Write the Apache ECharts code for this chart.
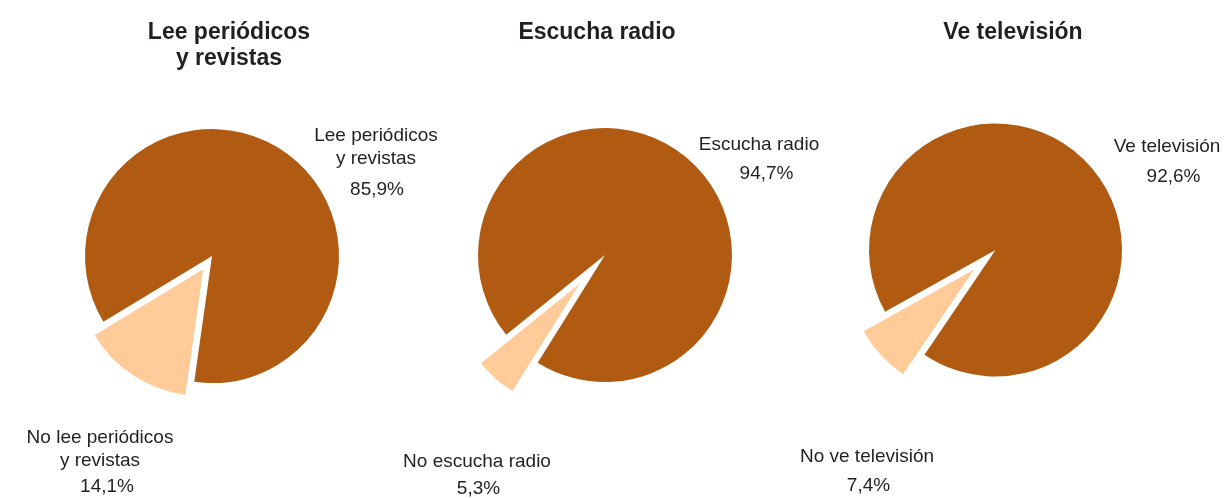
<!DOCTYPE html>
<html>
<head>
<meta charset="utf-8">
<script src="https://cdn.jsdelivr.net/npm/echarts@6/dist/echarts.min.js"></script>
<style>
html,body{margin:0;padding:0;background:#fff;}
#chart{width:1225px;height:498px;}
</style>
</head>
<body>
<div id="chart"></div>
<script>
// ---- data ----
const titles = ['Lee periódicos\ny revistas', 'Escucha radio', 'Ve televisión'];
const yesLabels = ['Lee periódicos\ny revistas', 'Escucha radio', 'Ve televisión'];
const noLabels = ['No lee periódicos\ny revistas', 'No escucha radio', 'No ve televisión'];
const yesValues = [85.9, 94.7, 92.6];
const noValues = [14.1, 5.3, 7.4];

// ---- layout (pixels) ----
const layout = [
  { cx: 212, cy: 256, r: 127, start: 211.2, offset: 16, titleX: 229,
    labels: [{ x: 376, y: 124, shift: 2, plh: 39 }, { x: 100, y: 426, shift: 14, plh: 29 }] },
  { cx: 605, cy: 255, r: 127, start: 218.9, offset: 38, titleX: 597,
    labels: [{ x: 759, y: 133, shift: 15, plh: 35 }, { x: 477, y: 450, shift: 3, plh: 31 }] },
  { cx: 995.5, cy: 250, r: 126.5, start: 209.2, offset: 29, titleX: 1013,
    labels: [{ x: 1167, y: 135, shift: 13, plh: 37 }, { x: 867, y: 445, shift: 3, plh: 35 }] }
];

const BROWN = '#B15B12';
const PEACH = '#FFCC99';
const TEXT = '#231F20';
const FONT = '"Liberation Sans", Arial, sans-serif';

function fmtPct(v) { return v.toFixed(1).replace('.', ',') + '%'; }

function labelCfg(lb) {
  return {
    show: true,
    position: 'outside',
    color: TEXT,
    fontFamily: FONT,
    formatter: (p) => {
      const lines = p.name.split('\n').map(s => '{n|' + s + '}').join('\n');
      return lines + '\n{p|' + fmtPct(p.value) + '}';
    },
    rich: {
      n: { fontSize: 19, lineHeight: 23, color: TEXT, fontFamily: FONT },
      p: { fontSize: 19, lineHeight: lb.plh, color: TEXT, fontFamily: FONT, padding: [0, 0, 0, lb.shift] }
    }
  };
}

const HIDDEN = { itemStyle: { color: 'rgba(0,0,0,0)' }, label: { show: false } };

const series = [];
titles.forEach((t, i) => {
  const L = layout[i];
  const total = yesValues[i] + noValues[i];
  const midDeg = L.start + 360 * noValues[i] / total / 2;
  const ox = L.offset * Math.cos(midDeg * Math.PI / 180);
  const oy = -L.offset * Math.sin(midDeg * Math.PI / 180);
  const base = {
    type: 'pie',
    radius: [0, L.r],
    startAngle: L.start,
    clockwise: true,
    avoidLabelOverlap: false,
    animation: false,
    silent: true,
    emphasis: { disabled: true },
    labelLine: { show: false }
  };
  // main slice
  series.push(Object.assign({}, base, {
    center: [L.cx, L.cy],
    label: labelCfg(L.labels[0]),
    labelLayout: () => ({ x: L.labels[0].x, y: L.labels[0].y, align: 'center', verticalAlign: 'top' }),
    data: [
      { name: yesLabels[i], value: yesValues[i], itemStyle: { color: BROWN } },
      Object.assign({ name: noLabels[i], value: noValues[i] }, HIDDEN)
    ]
  }));
  // exploded slice
  series.push(Object.assign({}, base, {
    center: [L.cx + ox, L.cy + oy],
    label: labelCfg(L.labels[1]),
    labelLayout: () => ({ x: L.labels[1].x, y: L.labels[1].y, align: 'center', verticalAlign: 'top' }),
    data: [
      Object.assign({ name: yesLabels[i], value: yesValues[i] }, HIDDEN),
      { name: noLabels[i], value: noValues[i], itemStyle: { color: PEACH } }
    ]
  }));
});

const title = titles.map((t, i) => ({
  text: t,
  left: layout[i].titleX,
  top: 20,
  padding: 0,
  textAlign: 'center',
  textStyle: { fontFamily: FONT, fontSize: 23, fontWeight: 'bold', color: TEXT, lineHeight: 26 }
}));

const chart = echarts.init(document.getElementById('chart'), null, { renderer: 'canvas' });
chart.setOption({
  backgroundColor: '#ffffff',
  animation: false,
  title: title,
  series: series
});
</script>
</body>
</html>
